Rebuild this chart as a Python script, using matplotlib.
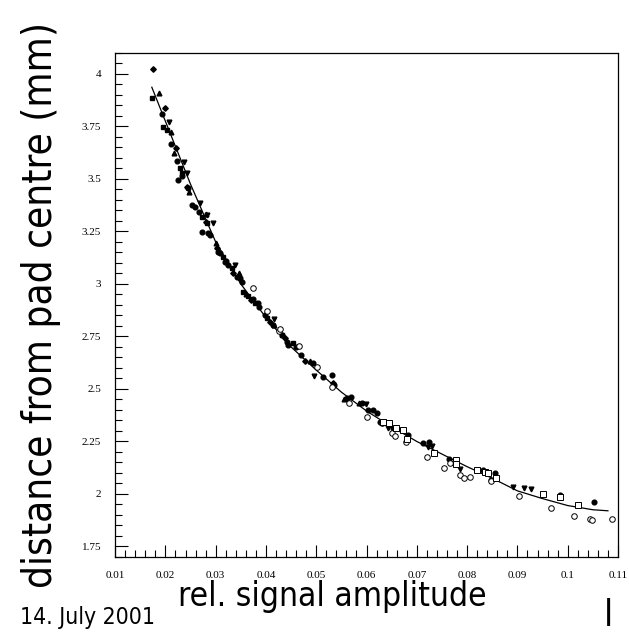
import matplotlib
matplotlib.use("Agg")
import matplotlib.pyplot as plt
from matplotlib.ticker import MultipleLocator, FormatStrFormatter

# fitted curve
fit_x = [0.0173, 0.0200, 0.0250, 0.0300, 0.0350, 0.0400, 0.0450, 0.0500, 0.0550, 0.0600,
         0.0650, 0.0700, 0.0750, 0.0800, 0.0850, 0.0900, 0.0950, 0.1000, 0.1050, 0.1080]
fit_y = [3.937, 3.775, 3.475, 3.200, 3.000, 2.840, 2.700, 2.590, 2.485, 2.395,
         2.320, 2.250, 2.190, 2.130, 2.075, 2.015, 1.978, 1.945, 1.925, 1.920]

# measured points, one list per marker type
sq_x = [0.01730, 0.01954, 0.02034, 0.02292, 0.02326, 0.02724, 0.02835, 0.03153, 0.03320,
        0.03545, 0.03650, 0.03783, 0.04016, 0.04314, 0.04545]
sq_y = [3.887, 3.748, 3.733, 3.551, 3.527, 3.320, 3.289, 3.130, 3.075,
        2.962, 2.945, 2.908, 2.837, 2.757, 2.718]

dia_x = [0.01761, 0.01988, 0.02213, 0.02425, 0.02809, 0.03022, 0.03352, 0.03700, 0.04082,
         0.04380, 0.04777, 0.05340]
dia_y = [4.024, 3.837, 3.646, 3.463, 3.297, 3.170, 3.051, 2.925, 2.820,
         2.741, 2.635, 2.527]

tup_x = [0.01881, 0.02107, 0.02173, 0.02477, 0.02809, 0.03008, 0.03471, 0.03600, 0.04161,
         0.04877, 0.05553, 0.05857]
tup_y = [3.908, 3.722, 3.622, 3.440, 3.332, 3.194, 3.054, 2.950, 2.805,
         2.635, 2.451, 2.432]

tdn_x = [0.02080, 0.02372, 0.02437, 0.02690, 0.02825, 0.02942, 0.03386, 0.04161, 0.04962,
         0.05984, 0.06433, 0.07217, 0.07296, 0.07859, 0.08919, 0.09131, 0.09264]
tdn_y = [3.770, 3.580, 3.527, 3.387, 3.329, 3.289, 3.090, 2.833, 2.562,
         2.429, 2.313, 2.225, 2.229, 2.119, 2.035, 2.027, 2.024]

dot_x = [0.01928, 0.02107, 0.02227, 0.02247, 0.02332, 0.02457, 0.02525, 0.02590, 0.02670,
         0.02724, 0.02855, 0.02889, 0.03054, 0.03087, 0.03187, 0.03207, 0.03252, 0.03419,
         0.03485, 0.03519, 0.03749, 0.03843, 0.03869, 0.03982, 0.04147, 0.04314, 0.04414,
         0.04445, 0.04598, 0.04692, 0.04930, 0.05129, 0.05308, 0.05354, 0.05606, 0.05686,
         0.05905, 0.06036, 0.06123, 0.06203, 0.06268, 0.06521, 0.06819, 0.07117, 0.07249,
         0.07634, 0.08322, 0.08555, 0.08469, 0.09847, 0.10529]
dot_y = [3.808, 3.665, 3.586, 3.495, 3.514, 3.456, 3.376, 3.368, 3.344,
         3.249, 3.244, 3.233, 3.154, 3.146, 3.106, 3.111, 3.090, 3.035,
         3.027, 3.011, 2.930, 2.910, 2.892, 2.852, 2.805, 2.757, 2.725,
         2.710, 2.701, 2.662, 2.625, 2.556, 2.567, 2.519, 2.456, 2.460,
         2.432, 2.400, 2.400, 2.384, 2.344, 2.313, 2.281, 2.244, 2.249,
         2.167, 2.113, 2.100, 2.068, 1.997, 1.960]

oc_x = [0.03749, 0.04028, 0.04266, 0.04280, 0.04664, 0.05022, 0.05308, 0.05658, 0.06004,
        0.06302, 0.06501, 0.06567, 0.06779, 0.07197, 0.07547, 0.07660, 0.07859, 0.07938,
        0.08058, 0.08469, 0.09038, 0.09668, 0.10119, 0.10443, 0.10483, 0.10887]
oc_y = [2.982, 2.873, 2.778, 2.784, 2.705, 2.603, 2.511, 2.432, 2.368,
        2.337, 2.289, 2.276, 2.249, 2.178, 2.125, 2.149, 2.090, 2.078,
        2.081, 2.063, 1.989, 1.932, 1.894, 1.881, 1.878, 1.882]

os_x = [0.06322, 0.06453, 0.06586, 0.06732, 0.06811, 0.07342, 0.07779, 0.07779, 0.08191,
        0.08356, 0.08421, 0.08575, 0.09509, 0.09847, 0.10205]
os_y = [2.344, 2.340, 2.313, 2.305, 2.260, 2.197, 2.162, 2.143, 2.113,
        2.103, 2.100, 2.075, 2.000, 1.987, 1.948]

fig = plt.figure(figsize=(6.29, 6.37), dpi=100)
ax = fig.add_axes([0.183, 0.1256, 0.7995, 0.7912])

ax.plot(fit_x, fit_y, '-', color='black', lw=0.9)
ax.plot(sq_x, sq_y, 's', color='black', ms=3.2)
ax.plot(dia_x, dia_y, 'D', color='black', ms=2.8)
ax.plot(tup_x, tup_y, '^', color='black', ms=3.4)
ax.plot(tdn_x, tdn_y, 'v', color='black', ms=3.4)
ax.plot(dot_x, dot_y, 'o', color='black', ms=3.4)
ax.plot(oc_x, oc_y, 'o', mfc='white', mec='black', mew=0.7, ms=4)
ax.plot(os_x, os_y, 's', mfc='white', mec='black', mew=0.7, ms=4)

ax.set_xlim(0.01, 0.11)
ax.set_ylim(1.7, 4.1)
ax.xaxis.set_major_locator(MultipleLocator(0.01))
ax.xaxis.set_minor_locator(MultipleLocator(0.002))
ax.yaxis.set_major_locator(MultipleLocator(0.25))
ax.yaxis.set_minor_locator(MultipleLocator(0.05))
ax.xaxis.set_major_formatter(FormatStrFormatter('%g'))
ax.yaxis.set_major_formatter(FormatStrFormatter('%g'))
ax.tick_params(which='both', direction='in', top=False, right=False,
               labelsize=8, labelfontfamily='Liberation Serif')
ax.tick_params(which='major', length=9, width=0.8, pad=10)
ax.tick_params(which='minor', length=5, width=0.8)
for s in ax.spines.values():
    s.set_linewidth(0.9)

fig.text(41/629, 1 - 305/637, 'distance from pad centre (mm)', rotation=90,
         ha='center', va='center', fontsize=29, family='DejaVu Sans', stretch='condensed')
fig.text(332/629, 1 - 606/637, 'rel. signal amplitude', ha='center', va='baseline',
         fontsize=24, family='DejaVu Sans', stretch='condensed')
fig.text(20/629, 1 - 624/637, '14. July 2001', ha='left', va='baseline',
         fontsize=16.5, family='DejaVu Sans', stretch='condensed')
fig.text(604/629, 1 - 626/637, 'l', ha='left', va='baseline',
         fontsize=27, family='DejaVu Sans', stretch='condensed')

fig.savefig('out.png', dpi=100)
